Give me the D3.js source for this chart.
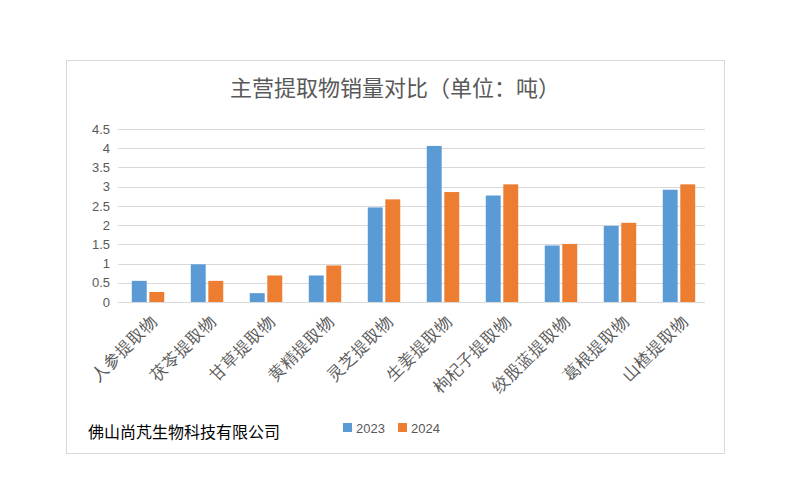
<!doctype html>
<html>
<head>
<meta charset="utf-8">
<script src="https://d3js.org/d3.v7.min.js"></script>
<style>body{margin:0;background:#fff;font-family:"Noto Sans CJK SC","Microsoft YaHei",sans-serif}</style>
</head>
<body>
<div id="chart"></div>
<script>
var categories = ["人参提取物","茯苓提取物","甘草提取物","黄精提取物","灵芝提取物","生姜提取物","枸杞子提取物","绞股蓝提取物","葛根提取物","山楂提取物"];
var series = ["2023","2024"];
var values2023 = [0.55,0.98,0.23,0.69,2.46,4.06,2.77,1.47,1.98,2.92];
var values2024 = [0.26,0.55,0.69,0.95,2.67,2.86,3.06,1.51,2.06,3.06];
var yTicks = [0,0.5,1,1.5,2,2.5,3,3.5,4,4.5];
var colors = ["#5b9bd5","#ed7d31"];

var svg = d3.select("#chart").append("svg").attr("width",790).attr("height",500);
svg.append("rect").attr("x",66.5).attr("y",60.5).attr("width",658).attr("height",393)
  .attr("fill","#fff").attr("stroke","#d9d9d9");

svg.append("text").attr("x",395).attr("y",96).attr("text-anchor","middle")
  .attr("font-size",22).attr("fill","#595959").text("主营提取物销量对比（单位：吨）");

var margin = {left:120, right:707, top:129, bottom:302};
var x = d3.scaleBand().domain(categories).range([margin.left,margin.right]).paddingInner(0.45).paddingOuter(0.2);
var xs = d3.scaleBand().domain(series).range([0,x.bandwidth()]).paddingInner(0.15);
var y = d3.scaleLinear().domain([0,4.5]).range([margin.bottom,margin.top]);

var g = svg.append("g");
g.selectAll(".grid").data(yTicks).enter().append("line")
  .attr("x1",118).attr("x2",705)
  .attr("y1",function(d){return Math.round(y(d))+0.5}).attr("y2",function(d){return Math.round(y(d))+0.5})
  .attr("stroke","#d9d9d9");

var yAxis = g.append("g").attr("transform","translate(118,0)")
  .call(d3.axisLeft(y).tickValues(yTicks).tickSize(0).tickPadding(8).tickFormat(d3.format("")));
yAxis.select(".domain").remove();
yAxis.selectAll("text").attr("font-size",13).attr("fill","#595959").attr("font-family","Liberation Sans, sans-serif");

var rows = categories.map(function(c,i){return {cat:c, vals:[values2023[i],values2024[i]]};});
var grp = g.selectAll(".cat").data(rows).enter().append("g")
  .attr("transform",function(d){return "translate("+x(d.cat)+",0)"});
grp.selectAll("rect").data(function(d){return d.vals.map(function(v,j){return {s:series[j],v:v,j:j}})})
  .enter().append("rect")
  .attr("x",function(d){return xs(d.s)}).attr("width",xs.bandwidth())
  .attr("y",function(d){return y(d.v)}).attr("height",function(d){return y(0)-y(d.v)})
  .attr("fill",function(d){return colors[d.j]});

var xAxis = g.append("g").attr("transform","translate(0,"+margin.bottom+")")
  .call(d3.axisBottom(x).tickSize(0).tickPadding(0));
xAxis.select(".domain").remove();
xAxis.selectAll("text").attr("font-size",16.5).attr("fill","#595959")
  .attr("text-anchor","end").attr("dy","0.35em")
  .attr("transform","translate(6,16) rotate(-45)");

svg.append("text").attr("x",88).attr("y",438).attr("font-size",16).attr("fill","#000").text("佛山尚芃生物科技有限公司");

var lg = svg.append("g").attr("transform","translate(343,423)");
series.forEach(function(s,i){
  lg.append("rect").attr("x",i*55).attr("y",0).attr("width",9).attr("height",9).attr("fill",colors[i]);
  lg.append("text").attr("x",i*55+13).attr("y",9.5).attr("font-size",13).attr("fill","#595959")
    .attr("font-family","Liberation Sans, sans-serif").text(s);
});
</script>
</body>
</html>
